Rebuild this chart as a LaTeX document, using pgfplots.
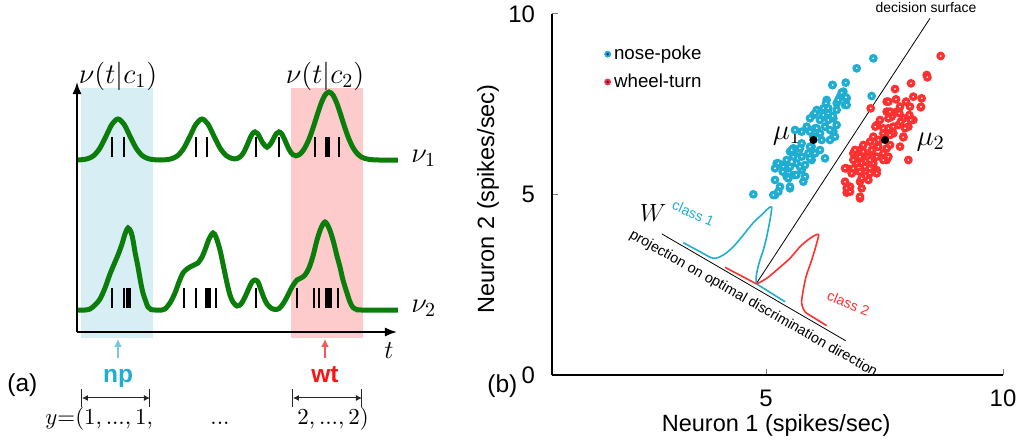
\RequirePackage{fix-cm}
\documentclass[border=0pt]{standalone}
\usepackage{fontspec}
\setmainfont{Liberation Sans}
\usepackage{pgfplots}
\pgfplotsset{compat=1.18}
\usetikzlibrary{arrows.meta}

\definecolor{npblue}{RGB}{31,174,210}
\definecolor{wtred}{RGB}{255,48,48}
\definecolor{wttext}{RGB}{250,20,20}
\definecolor{shadeblue}{RGB}{216,238,245}
\definecolor{shadepink}{RGB}{253,203,203}
\definecolor{rategreen}{RGB}{10,125,10}
\definecolor{arrowblue}{RGB}{120,200,222}
\definecolor{arrowred}{RGB}{240,90,90}
\definecolor{dotcore}{RGB}{20,30,160}

\begin{document}
\begin{tikzpicture}
\useasboundingbox (0,0) rectangle (511bp,222.5bp);

% ---------------- (a) firing rates and spike trains ----------------
\begin{axis}[
  at={(38.5bp,56.5bp)}, anchor=south west,
  scale only axis, width=160bp, height=125bp,
  xmin=0, xmax=320, ymin=0, ymax=250,
  axis lines=left,
  axis line style={line width=0.8bp, -{Latex[length=6bp,width=4.5bp]}},
  xtick=\empty, ytick=\empty,
  clip=false, axis on top,
]
% class windows
\addplot[draw=none, fill=shadeblue] coordinates {(4,-6) (76,-6) (76,244) (4,244)} -- cycle;
\addplot[draw=none, fill=shadepink] coordinates {(214,-6) (286,-6) (286,244) (214,244)} -- cycle;

% spikes, neuron 1
\addplot[black, line width=1.15bp, unbounded coords=jump] coordinates {
 (35.3,175) (35.3,195) (35.3,nan)
 (47,175) (47,195) (47,nan)
 (118.7,175) (118.7,195) (118.7,nan)
 (130.3,175) (130.3,195) (130.3,nan)
 (178.7,175) (178.7,195) (178.7,nan)
 (202,175) (202,195) (202,nan)
 (238,175) (238,195) (238,nan)
 (249.5,175) (249.5,195) (249.5,nan)
 (251.5,175) (251.5,195) (251.5,nan)
 (262,175) (262,195)
};
% spikes, neuron 2
\addplot[black, line width=1.15bp, unbounded coords=jump] coordinates {
 (35.3,24) (35.3,44) (35.3,nan)
 (47,24) (47,44) (47,nan)
 (50,24) (50,44) (50,nan)
 (52.5,24) (52.5,44) (52.5,nan)
 (107.3,24) (107.3,44) (107.3,nan)
 (118.7,24) (118.7,44) (118.7,nan)
 (129.5,24) (129.5,44) (129.5,nan)
 (132.5,24) (132.5,44) (132.5,nan)
 (138.7,24) (138.7,44) (138.7,nan)
 (179,24) (179,44) (179,nan)
 (220.3,24) (220.3,44) (220.3,nan)
 (237.3,24) (237.3,44) (237.3,nan)
 (242,24) (242,44) (242,nan)
 (249.3,24) (249.3,44) (249.3,nan)
 (251.5,24) (251.5,44) (251.5,nan)
 (253.7,24) (253.7,44) (253.7,nan)
 (261.3,24) (261.3,44)
};

% rate of neuron 1
\addplot[rategreen, line width=2.5bp, smooth] coordinates {
 (0,172) (5,172.3) (11,173.4) (17,176.6) (23,184.1) (29,195.8) (35,207.8) (41,213)
 (47,207.8) (53,195.8) (59,184.1) (65,176.6) (71,173.4) (77,172.3) (83,172)
 (89,172.3) (95,173.4) (101,176.6) (107,184.1) (113,195.8) (119,207.8) (125,213)
 (131,207.8) (137,195.8) (143,184.1) (149,176.6) (155,173.5) (158,173.1) (161,173.8)
 (164,175.9) (167,180.1) (170,186.6) (173,193.7) (175.5,198.3) (178,200.1) (180.5,198.5)
 (183,194.4) (186,188.7) (190,184.8) (194,188.7) (197,194.4) (199.5,198.5) (202,200.1)
 (204.5,198.4) (207,193.9) (210,187) (213,180.9) (216,177.3) (219,176.2) (222,177.2)
 (225,180) (228,184.4) (232,192.8) (236,203.9) (240,216.4) (244,228.3) (248,236.9)
 (252,240) (256,236.9) (260,228.3) (264,216.4) (268,203.9) (272,192.8) (276,184.4)
 (280,178.7) (284,175.3) (288,173.5) (292,172.6) (296,172.2) (302,172) (321,172)
};
% rate of neuron 2
\addplot[rategreen, line width=2.5bp, smooth] coordinates {
 (0,22) (8,22) (13,23) (18,27) (23,33) (28,44) (33,58) (38,70) (41,77) (45,88) (48,98)
 (51,104) (54,100) (56,92) (58,80) (61,65) (64,48) (66,39) (69,30) (71,25) (74,22.5)
 (78,22) (85,22) (88,23) (93,29) (98,39) (102,50) (106,59) (110,63) (113,65) (117,67)
 (121,69) (125,75) (128,82) (132,93) (136,99) (139,95) (143,82) (146,68) (150,49)
 (153,37) (156,30) (160,26) (164,28) (168,35) (172,44) (175,50) (178,52) (181,50)
 (184,42) (187,34) (190,28) (194,24) (198,22.5) (202,23.5) (206,28) (210,35) (215,45)
 (220,52) (224,54) (228,57) (232,64) (236,76) (240,92) (244,104) (248,110) (252,104)
 (256,92) (260,76) (263,65) (266,52) (270,39) (273,30) (276,24.5) (280,22.5) (284,22)
 (321,22)
};

% labels
\node[font=\fontsize{14.3}{17}\selectfont] at (axis cs:41,256) {$\nu(t|c_1)$};
\node[font=\fontsize{14.3}{17}\selectfont] at (axis cs:248,256) {$\nu(t|c_2)$};
\node[font=\fontsize{14.3}{17}\selectfont, anchor=base west, inner sep=0pt] at (axis cs:334,170) {$\nu_1$};
\node[font=\fontsize{14.3}{17}\selectfont, anchor=base west, inner sep=0pt] at (axis cs:334,20) {$\nu_2$};
\node[font=\fontsize{13}{15}\selectfont, anchor=base, inner sep=0pt] at (axis cs:312,-27) {$t$};

% behavioural events
\addplot[arrowblue, line width=0.7bp, -{Latex[length=4bp,width=4bp]}] coordinates {(41,-26) (41,-7)};
\addplot[arrowred, line width=0.7bp, -{Latex[length=4bp,width=4bp]}] coordinates {(248,-26) (248,-7)};
\node[npblue, font=\bfseries\fontsize{12.3}{14}\selectfont, anchor=base, inner sep=0pt] at (axis cs:41,-51) {np};
\node[wttext, font=\bfseries\fontsize{12.3}{14}\selectfont, anchor=base, inner sep=0pt] at (axis cs:248,-51) {wt};

% label intervals
\addplot[black!85, line width=0.5bp, {Latex[length=3bp,width=3bp]}-{Latex[length=3bp,width=3bp]}] coordinates {(5,-66) (73,-66)};
\addplot[black!85, line width=0.5bp] coordinates {(5,-57) (5,-75)};
\addplot[black!85, line width=0.5bp] coordinates {(73,-57) (73,-75)};
\addplot[black!85, line width=0.5bp, {Latex[length=3bp,width=3bp]}-{Latex[length=3bp,width=3bp]}] coordinates {(216,-66) (285,-66)};
\addplot[black!85, line width=0.5bp] coordinates {(216,-57) (216,-75)};
\addplot[black!85, line width=0.5bp] coordinates {(285,-57) (285,-75)};

\node[font=\fontsize{11.5}{14}\selectfont, anchor=base west, inner sep=0pt] at (axis cs:-32,-93) {$y{=}(1,\mathrm{...},1,$};
\node[font=\fontsize{11.5}{14}\selectfont, anchor=base, inner sep=0pt] at (axis cs:143,-93) {$\mathrm{...}$};
\node[font=\fontsize{11.5}{14}\selectfont, anchor=base west, inner sep=0pt] at (axis cs:220,-93) {$2,\mathrm{...},2)$};

\node[font=\fontsize{12.3}{14}\selectfont, anchor=base west, inner sep=0pt] at (axis cs:-70,-60) {(a)};
\end{axis}

% ---------------- (b) two-neuron space ----------------
\begin{axis}[
  at={(276bp,35bp)}, anchor=south west,
  scale only axis, width=225.5bp, height=180.5bp,
  xmin=0.485, xmax=10, ymin=0, ymax=10,
  axis x line=bottom, axis y line=left,
  axis line style={-, line width=0.9bp},
  xtick={5,10}, ytick={0,5,10},
  tick align=inside, major tick length=3bp,
  tick style={gray, line width=0.5bp},
  ticklabel style={font=\fontsize{12}{14}\selectfont},
  yticklabel style={xshift=-5bp},
  xticklabel style={yshift=-4bp},
  /pgf/number format/assume math mode=true,
  xlabel={Neuron 1 (spikes/sec)}, ylabel={Neuron 2 (spikes/sec)},
  label style={font=\fontsize{11.8}{14}\selectfont},
  xlabel style={at={(axis description cs:0.497,-0.139)}, anchor=center},
  ylabel style={at={(axis description cs:-0.142,0.488)}, anchor=center},
  clip=false,
  legend style={at={(rel axis cs:0.115,0.921)}, anchor=north west, draw=none, fill=none,
    font=\fontsize{9.4}{11}\selectfont, row sep=2.6bp, inner sep=0pt,
    nodes={inner sep=1.5bp},
    /tikz/every even column/.append style={column sep=3bp}},
  legend cell align=left,
]
\addplot[only marks, mark=*, color=npblue, mark size=1.35bp, mark options={fill=white, line width=1.6bp},
  legend image code/.code={\fill[npblue] (0bp,0bp) circle (1.5bp); \fill[dotcore] (0bp,0bp) circle (0.45bp);}] coordinates {
 (7.264,8.772) (6.913,8.495) (6.681,8.098) (6.399,8.033) (7.229,7.729) (6.631,7.849) (6.561,7.710)
 (6.702,7.664) (6.667,7.479) (6.491,7.525) (6.280,7.618) (6.210,7.387) (6.069,7.341) (6.315,7.248)
 (5.999,7.202) (5.928,7.110) (6.139,7.064) (6.421,7.110) (6.491,6.925) (5.858,6.879) (6.034,6.833)
 (6.245,6.879) (5.612,6.787) (5.928,6.741) (6.139,6.694) (6.421,6.602) (6.421,6.741) (5.752,6.741)
 (5.999,6.602) (6.174,6.510) (6.350,6.510) (5.752,6.417) (5.963,6.325) (5.577,6.279) (5.506,6.187)
 (5.682,6.187) (5.893,6.140) (6.034,6.140) (6.245,6.002) (5.963,5.956) (5.436,5.956) (5.647,5.863)
 (5.823,5.817) (5.225,5.863) (5.331,5.817) (5.471,5.725) (5.190,5.725) (5.752,5.679) (5.577,5.540)
 (5.436,5.494) (5.823,5.494) (5.788,5.355) (5.190,5.402) (5.295,5.217) (5.506,5.171) (5.190,4.986)
 (5.260,5.079) (4.733,5.005)
 (6.266,7.525) (6.034,7.248) (6.210,7.202) (6.315,7.064) (6.069,6.833) (6.350,6.787) (6.456,6.602)
 (5.541,6.233) (5.717,6.279) (5.928,6.325) (6.139,6.233) (5.752,6.048) (5.928,6.002) (5.577,6.048)
 (5.260,5.863) (5.366,5.771) (5.506,5.771) (5.717,5.771) (5.352,5.632) (5.640,5.540) (5.471,5.448)
 (5.506,5.217) (5.155,4.986) (6.406,8.033) (6.596,7.821) (6.688,7.692) (6.526,7.618) (6.702,7.479)
 (6.315,7.387) (6.491,7.341) (6.406,7.175)
};
\addlegendentry{nose-poke}
\addplot[only marks, mark=*, color=wtred, mark size=1.35bp, mark options={fill=white, line width=1.6bp},
  legend image code/.code={\fill[wtred] (0bp,0bp) circle (1.5bp); \fill[dotcore] (0bp,0bp) circle (0.45bp);}] coordinates {
 (8.685,8.837) (8.390,8.310) (8.404,8.246) (8.059,8.079) (7.722,7.922) (8.108,7.710) (8.284,7.664)
 (7.743,7.636) (7.546,7.572) (7.954,7.572) (8.263,7.415) (8.038,7.433) (7.208,7.387) (7.827,7.433)
 (7.757,7.295) (7.546,7.295) (7.405,7.064) (7.651,7.156) (7.897,7.110) (8.108,7.064) (7.335,6.925)
 (7.581,6.833) (7.792,6.925) (8.003,6.879) (7.475,6.694) (7.686,6.694) (7.897,6.602) (7.264,6.602)
 (7.405,6.510) (7.194,6.464) (7.053,6.371) (7.335,6.325) (7.616,6.371) (7.827,6.325) (6.983,6.233)
 (7.229,6.187) (7.475,6.140) (6.842,6.140) (7.053,6.048) (7.335,6.048) (7.546,5.956) (8.003,5.956)
 (6.913,5.863) (6.702,5.725) (7.124,5.771) (7.335,5.679) (6.842,5.632) (7.018,5.586) (7.335,5.586)
 (6.667,5.355) (6.983,5.355) (7.159,5.402) (6.772,5.217) (6.702,5.051) (7.018,5.171) (6.983,4.894)
 (6.807,5.679) (7.264,5.863)
 (8.270,7.433) (7.581,7.572) (7.616,7.295) (7.813,7.248) (8.024,7.202) (7.581,7.110) (7.841,7.018)
 (8.052,7.064) (7.306,6.879) (7.475,6.833) (7.686,6.879) (7.932,6.833) (7.616,6.648) (7.897,6.584)
 (7.370,6.510) (7.370,6.325) (7.229,6.233) (7.546,6.279) (7.053,6.187) (6.878,6.233) (6.983,6.048)
 (7.159,6.048) (7.581,6.048) (7.475,5.956) (7.194,5.956) (7.018,5.863) (6.842,5.956) (6.667,5.725)
 (6.842,5.725) (6.807,5.586) (7.088,5.771) (6.983,5.632) (7.188,5.725) (7.188,5.586) (7.018,5.448)
 (6.702,5.171) (6.772,5.079) (6.983,4.940)
};
\addlegendentry{wheel-turn}

% class means
\addplot[only marks, mark=*, mark size=1.8bp, black, forget plot] coordinates {(6.0,6.51) (7.51,6.51)};

% decision surface and discriminant direction
\addplot[black, line width=0.4bp, forget plot] coordinates {(4.80,2.54) (8.46,9.88)};
\addplot[black, line width=0.4bp, forget plot] coordinates {(2.80,3.91) (6.68,0.95)};

% projected class densities
\addplot[npblue, line width=0.8bp, smooth, forget plot] coordinates {
 (3.255,3.665) (3.608,3.416) (3.888,3.233) (4.099,3.324) (4.31,3.554) (4.521,3.878) (4.732,4.219)
 (4.943,4.479) (5.049,4.617) (5.12,4.645) (5.084,4.294) (5.015,3.831) (4.943,3.463) (4.873,3.186)
 (4.817,2.909) (4.789,2.679) (4.803,2.521)
};
\addplot[npblue, line width=0.8bp, forget plot] coordinates {(4.803,2.521) (5.401,2.030)};
\addplot[wtred, line width=0.8bp, forget plot] coordinates {(4.135,2.983) (4.803,2.521)};
\addplot[wtred, line width=0.8bp, smooth, forget plot] coordinates {
 (4.803,2.521) (5.015,2.679) (5.226,2.909) (5.506,3.233) (5.717,3.554) (5.928,3.786) (6.103,3.897)
 (6.069,3.648) (5.964,3.186) (5.844,2.723) (5.774,2.263) (5.753,1.986) (5.823,1.753) (5.998,1.598)
 (6.281,1.366)
};

% annotations
\node[font=\fontsize{7}{8}\selectfont] at (axis cs:8.376,10.17) {decision surface};
\node[font=\fontsize{7.2}{8}\selectfont, rotate=-29.6] at (axis cs:4.732,1.967) {projection on optimal discrimination direction};
\node[npblue, font=\fontsize{7.1}{8}\selectfont, rotate=-24] at (axis cs:3.467,4.479) {class 1};
\node[wtred, font=\fontsize{7.1}{8}\selectfont, rotate=-22] at (axis cs:6.737,1.986) {class 2};
\node[font=\fontsize{12.5}{15}\selectfont] at (axis cs:2.62,4.48) {$W$};
\node[font=\fontsize{14.5}{17}\selectfont] at (axis cs:5.443,6.62) {$\mu_1$};
\node[font=\fontsize{14.5}{17}\selectfont] at (axis cs:8.475,6.46) {$\mu_2$};
\node[font=\fontsize{12.3}{14}\selectfont, anchor=base west, inner sep=0pt] at (axis cs:-0.886,-0.471) {(b)};
\end{axis}
\end{tikzpicture}
\end{document}
